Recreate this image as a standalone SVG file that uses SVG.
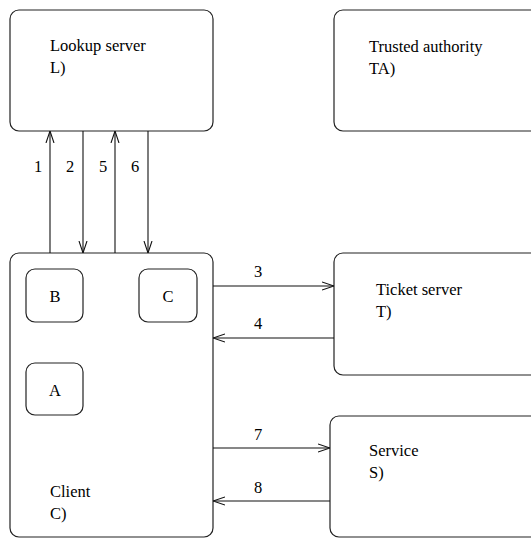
<svg xmlns="http://www.w3.org/2000/svg" width="531" height="538" viewBox="0 0 531 538">
  <style>
    .box { fill: #ffffff; stroke: #222222; stroke-width: 1.2; }
    text { font-family: 'Liberation Serif', 'DejaVu Serif', serif; font-size: 16.5px; fill: #000000; }
    .mid { text-anchor: middle; }
    .edge { stroke: #111111; stroke-width: 1.1; fill: none; marker-end: url(#open); }
  </style>
  <defs>
    <marker id="open" viewBox="0 0 12 10" refX="12" refY="5" markerWidth="12" markerHeight="10" markerUnits="userSpaceOnUse" orient="auto">
      <path d="M0,1 L12,5 L0,9" fill="none" stroke="#111111" stroke-width="1.1"/>
    </marker>
  </defs>
  <rect width="531" height="538" fill="#ffffff"/>

  <g id="lookup">
    <rect class="box" x="10" y="10" width="203" height="121" rx="9"/>
    <text x="50" y="51">Lookup server</text>
    <text x="50" y="73">L)</text>
  </g>

  <g id="authority">
    <rect class="box" x="334" y="10" width="210" height="121" rx="9"/>
    <text x="369" y="52">Trusted authority</text>
    <text x="369" y="74">TA)</text>
  </g>

  <g id="client">
    <rect class="box" x="10" y="253" width="203" height="284" rx="9"/>
    <text x="50" y="497">Client</text>
    <text x="50" y="519">C)</text>
  </g>

  <g id="b">
    <rect class="box" x="26" y="269" width="57" height="53" rx="9"/>
    <text class="mid" x="55" y="302">B</text>
  </g>

  <g id="c">
    <rect class="box" x="139" y="269" width="58" height="53" rx="9"/>
    <text class="mid" x="168" y="302">C</text>
  </g>

  <g id="a">
    <rect class="box" x="26" y="363" width="57" height="52" rx="9"/>
    <text class="mid" x="55" y="396">A</text>
  </g>

  <g id="ticket">
    <rect class="box" x="334" y="253" width="210" height="122" rx="9"/>
    <text x="376" y="295">Ticket server</text>
    <text x="376" y="317">T)</text>
  </g>

  <g id="service">
    <rect class="box" x="330" y="416" width="214" height="121" rx="9"/>
    <text x="369" y="456">Service</text>
    <text x="369" y="478">S)</text>
  </g>

  <g id="connectors">
    <line class="edge" x1="50" y1="253" x2="50" y2="131"/>
    <line class="edge" x1="83" y1="131" x2="83" y2="253"/>
    <line class="edge" x1="115" y1="253" x2="115" y2="131"/>
    <line class="edge" x1="148" y1="131" x2="148" y2="253"/>
    <line class="edge" x1="213" y1="286" x2="334" y2="286"/>
    <line class="edge" x1="334" y1="338" x2="213" y2="338"/>
    <line class="edge" x1="213" y1="448" x2="330" y2="448"/>
    <line class="edge" x1="330" y1="501" x2="213" y2="501"/>
    <text class="mid" x="38" y="172">1</text>
    <text class="mid" x="70" y="172">2</text>
    <text class="mid" x="103" y="172">5</text>
    <text class="mid" x="135" y="172">6</text>
    <text class="mid" x="258" y="277">3</text>
    <text class="mid" x="258" y="329">4</text>
    <text class="mid" x="258" y="440">7</text>
    <text class="mid" x="258" y="493">8</text>
  </g>
</svg>
